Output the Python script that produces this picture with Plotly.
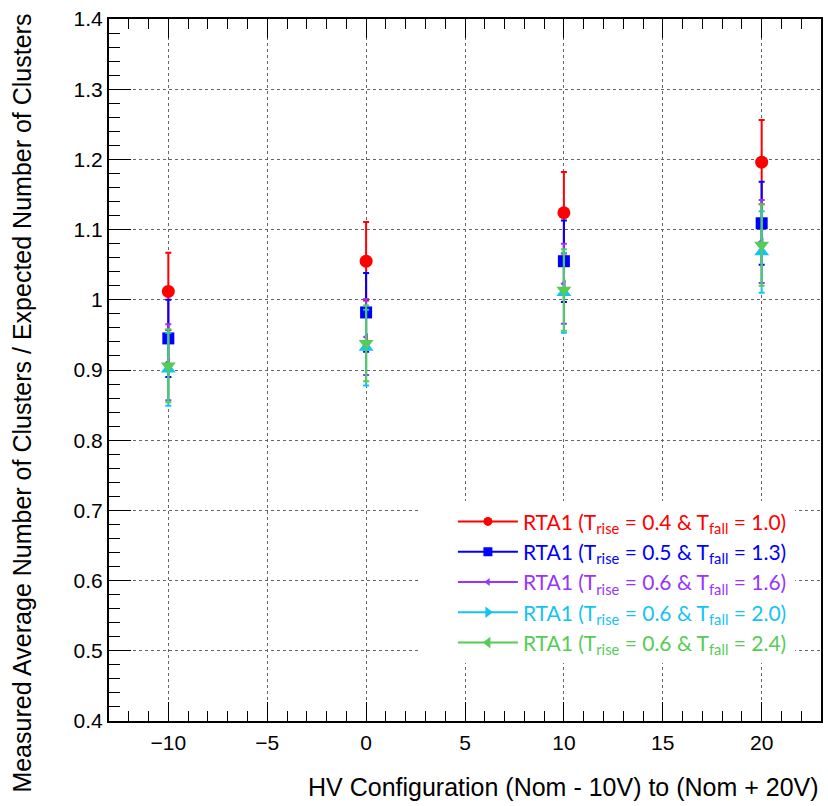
import plotly.graph_objects as go

hv = [-10, 0, 10, 20]

labels = [
    "RTA1 (T<sub>rise</sub> = 0.4 &amp; T<sub>fall</sub> = 1.0)",
    "RTA1 (T<sub>rise</sub> = 0.5 &amp; T<sub>fall</sub> = 1.3)",
    "RTA1 (T<sub>rise</sub> = 0.6 &amp; T<sub>fall</sub> = 1.6)",
    "RTA1 (T<sub>rise</sub> = 0.6 &amp; T<sub>fall</sub> = 2.0)",
    "RTA1 (T<sub>rise</sub> = 0.6 &amp; T<sub>fall</sub> = 2.4)",
]
red_y = [1.012, 1.055, 1.124, 1.196]
red_e = [0.055, 0.056, 0.058, 0.060]
blue_y = [0.945, 0.982, 1.055, 1.109]
blue_e = [0.055, 0.056, 0.058, 0.059]
purple_y = [0.911, 0.947, 1.023, 1.083]
purple_e = [0.054, 0.054, 0.057, 0.059]
cyan_y = [0.901, 0.932, 1.010, 1.068]
cyan_e = [0.052, 0.054, 0.057, 0.058]
green_y = [0.906, 0.938, 1.014, 1.078]
green_e = [0.052, 0.054, 0.058, 0.058]

series = [
    (red_y, red_e, "#ff0000", "circle", 13, "circle", 9),
    (blue_y, blue_e, "#0000ff", "square", 12, "square", 9),
    (purple_y, purple_e, "#9933ff", "triangle-left", 7, "triangle-left", 7),
    (cyan_y, cyan_e, "#14c3f5", "triangle-up", 13, "triangle-right", 10),
    (green_y, green_e, "#55cc55", "triangle-down", 13, "triangle-left", 10),
]

fig = go.Figure()
for (yv, ev, col, sym, sz, lsym, lsz), nm in zip(series, labels):
    fig.add_trace(go.Scatter(
        x=hv, y=yv, mode="markers", showlegend=False,
        marker=dict(symbol=sym, size=sz, color=col, line=dict(width=0)),
        error_y=dict(type="data", array=ev, color=col, thickness=2, width=3),
    ))
for (yv, ev, col, sym, sz, lsym, lsz), nm in zip(series, labels):
    fig.add_trace(go.Scatter(
        x=[None], y=[None], mode="lines+markers",
        name='<span style="color:%s">%s</span>' % (col, nm),
        line=dict(color=col, width=2),
        marker=dict(symbol=lsym, size=lsz, color=col, line=dict(width=0)),
    ))

axfont = dict(family="Liberation Sans, Arial, sans-serif", size=21, color="black")

fig.update_layout(
    width=828, height=806,
    margin=dict(l=109, r=5, t=19, b=85),
    plot_bgcolor="white", paper_bgcolor="white",
    showlegend=True,
    legend=dict(
        x=0.483, y=0.313, xanchor="left", yanchor="top",
        bgcolor="white", borderwidth=0,
        font=dict(family="Lato, Open Sans, sans-serif", size=21),
        tracegroupgap=0, itemwidth=60,
    ),
    shapes=[
        dict(type="rect", xref="paper", yref="paper", x0=0.4356, x1=0.9636, y0=0.0983, y1=0.3105,
             fillcolor="white", line=dict(width=0), layer="above"),
    ],
    xaxis=dict(
        range=[-13, 23], tickmode="linear", tick0=-10, dtick=5,
        ticks="inside", ticklen=19, tickwidth=1, tickcolor="black",
        minor=dict(tickmode="linear", dtick=1, ticks="inside", ticklen=10, tickcolor="black", showgrid=False),
        showline=True, linecolor="black", linewidth=2, mirror="ticks",
        showgrid=True, gridcolor="#666666", griddash="dot", gridwidth=1,
        zeroline=False, tickfont=axfont, ticklabelstandoff=2,
    ),
    yaxis=dict(
        range=[0.4, 1.4], tickmode="linear", tick0=0.4, dtick=0.1,
        ticks="inside", ticklen=22, tickwidth=1, tickcolor="black",
        minor=dict(tickmode="linear", dtick=0.02, ticks="inside", ticklen=11, tickcolor="black", showgrid=False),
        showline=True, linecolor="black", linewidth=2, mirror=True,
        showgrid=True, gridcolor="#666666", griddash="dot", gridwidth=1,
        zeroline=False, tickfont=axfont, tickformat="~g",
    ),
    annotations=[
        dict(text="HV Configuration (Nom - 10V) to (Nom + 20V)", xref="paper", yref="paper",
             x=1.0, y=-0.094, xanchor="right", yanchor="middle", showarrow=False,
             font=dict(family="Liberation Sans, Arial, sans-serif", size=25, color="black")),
        dict(text="Measured Average Number of Clusters / Expected Number of Clusters",
             xref="paper", yref="paper", x=-0.122, y=1.01, xanchor="center", yanchor="top",
             textangle=-90, showarrow=False,
             font=dict(family="Liberation Sans, Arial, sans-serif", size=25, color="black")),
    ],
)

fig.write_html("out.html", config={"displayModeBar": False},
               post_script="document.body.style.margin='0';document.body.style.overflow='hidden';")
